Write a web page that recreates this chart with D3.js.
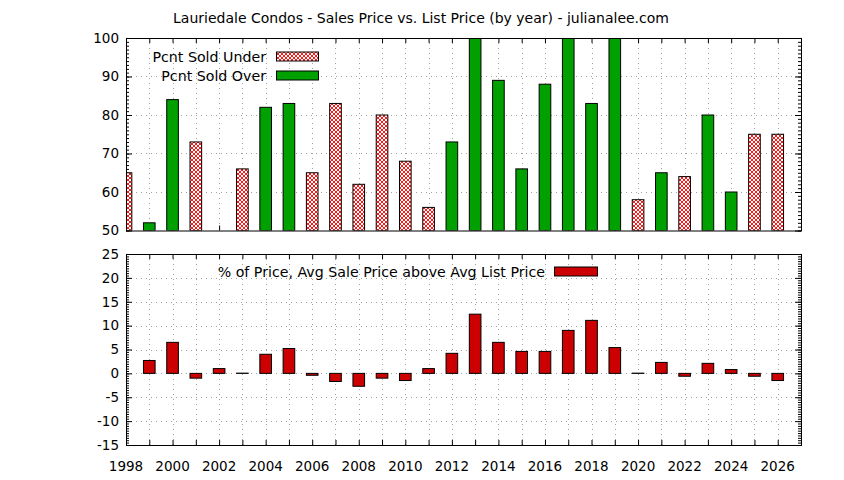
<!DOCTYPE html>
<html>
<head>
<meta charset="utf-8">
<script src="https://cdn.jsdelivr.net/npm/d3@7"></script>
<style>
  body { margin: 0; background: #fff; }
  svg { display: block; font-family: "DejaVu Sans", sans-serif; }
</style>
</head>
<body>
<div id="chart"></div>
<script>
// --- data ---
const years = d3.range(1998, 2027);
// percent of sales closed under list price (values under 50 fall below the axis)
const pcntUnder = [65, 45, 16, 73, 50, 66, 18, 17, 65, 83, 62, 80, 68, 56, 27, 0, 11, 34, 12, 0, 17, 0, 58, 35, 64, 20, 40, 75, 75];
// percent of sales closed over list price
const pcntOver  = [35, 52, 84, 27, 50, 34, 82, 83, 35, 17, 38, 20, 32, 44, 73, 100, 89, 66, 88, 100, 83, 100, 42, 65, 36, 80, 60, 25, 25];
// avg sale price above avg list price, in %
const pctAbove  = [0, 2.7, 6.5, -1.0, 1.0, 0.05, 4.0, 5.2, -0.4, -1.7, -2.7, -1.0, -1.5, 1.0, 4.2, 12.4, 6.5, 4.6, 4.6, 9.0, 11.1, 5.4, 0.05, 2.3, -0.6, 2.1, 0.8, -0.6, -1.5];
const topTicks = [50, 60, 70, 80, 90, 100];
const botTicks = [-15, -10, -5, 0, 5, 10, 15, 20, 25];
const yearLabels = d3.range(1998, 2027, 2);

const titleText = "Lauriedale Condos - Sales Price vs. List Price (by year) - julianalee.com";

const W = 844, H = 480;
const left = 126, right = 801;
const top1 = 38, bot1 = 230.5;
const top2 = 254, bot2 = 445;
const green = "#00a000", red = "#cc0000";

const svg = d3.select("#chart").append("svg")
    .attr("width", W).attr("height", H);

const defs = svg.append("defs");
const pat = defs.append("pattern")
    .attr("id", "hatch")
    .attr("patternUnits", "userSpaceOnUse")
    .attr("width", 4).attr("height", 4);
pat.append("rect").attr("width", 4).attr("height", 4).attr("fill", "#fff");
pat.append("path")
    .attr("d", "M0,0 L4,4 M4,0 L0,4 M-1,3 L1,5 M3,-1 L5,1 M-1,1 L1,-1 M3,5 L5,3")
    .attr("stroke", "#ff1a1a").attr("stroke-width", 1);

const x = d3.scaleLinear().domain([1998, 2027]).range([left, right]);
const y1 = d3.scaleLinear().domain([50, 100]).range([bot1, top1]);
const y2 = d3.scaleLinear().domain([-15, 25]).range([bot2, top2]);
const barW = x(1998.5) - x(1998);

svg.append("text")
    .attr("x", 421).attr("y", 23)
    .attr("text-anchor", "middle")
    .attr("font-size", "14px")
    .attr("fill", "#000")
    .text(titleText);

function panel(y, yTop, yBot, ticks, minorStep, id) {
    const g = svg.append("g");
    const clip = defs.append("clipPath").attr("id", id);
    clip.append("rect").attr("x", left).attr("y", yTop).attr("width", right - left).attr("height", yBot - yTop);

    // grid
    const grid = g.append("g")
        .attr("stroke", "#a0a0a0").attr("stroke-width", 1)
        .attr("stroke-dasharray", "1,4");
    grid.selectAll("line.h").data(ticks.slice(1, -1)).join("line")
        .attr("x1", left).attr("x2", right)
        .attr("y1", d => Math.round(y(d)) + 0.5).attr("y2", d => Math.round(y(d)) + 0.5);
    grid.selectAll("line.v").data(years.slice(1)).join("line")
        .attr("x1", d => Math.round(x(d)) + 0.5).attr("x2", d => Math.round(x(d)) + 0.5)
        .attr("y1", yTop).attr("y2", yBot);

    // y axes, left and mirrored right
    const dom = y.domain();
    const minor = d3.range(dom[0], dom[1] + 0.001, minorStep);
    const axL = d3.axisRight(y).tickValues(ticks).tickSize(6).tickFormat("");
    const axLm = d3.axisRight(y).tickValues(minor).tickSize(3).tickFormat("");
    const axR = d3.axisLeft(y).tickValues(ticks).tickSize(6).tickFormat("");
    const axRm = d3.axisLeft(y).tickValues(minor).tickSize(3).tickFormat("");
    [[axL, left], [axLm, left], [axR, right], [axRm, right]].forEach(([a, px]) => {
        const ag = g.append("g").attr("transform", `translate(${px},0)`).call(a);
        ag.select(".domain").remove();
        ag.selectAll("line").attr("stroke", "#000");
    });
    // y labels
    g.selectAll("text.yl").data(ticks).join("text")
        .attr("x", left - 7).attr("y", d => y(d))
        .attr("dy", "0.36em")
        .attr("text-anchor", "end")
        .attr("font-size", "13.5px")
        .text(d => d);

    // x ticks top and bottom
    const axT = d3.axisBottom(x).tickValues(years).tickSize(5).tickFormat("");
    const axB = d3.axisTop(x).tickValues(years).tickSize(5).tickFormat("");
    [[axT, yTop], [axB, yBot]].forEach(([a, py]) => {
        const ag = g.append("g").attr("transform", `translate(0,${py})`).call(a);
        ag.select(".domain").remove();
        ag.selectAll("line").attr("stroke", "#000");
    });

    const bars = g.append("g").attr("clip-path", `url(#${id})`);
    g.append("rect")
        .attr("x", left + 0.5).attr("y", yTop + 0.5)
        .attr("width", right - left).attr("height", yBot - yTop)
        .attr("fill", "none").attr("stroke", "#000").attr("stroke-width", 1);
    return bars;
}

// --- top panel ---
const bars1 = panel(y1, top1, bot1, topTicks, 1, "clip1");
bars1.selectAll("rect.under").data(years).join("rect")
    .attr("x", d => x(d) - barW / 2)
    .attr("width", barW)
    .attr("y", (d, i) => y1(pcntUnder[i]))
    .attr("height", (d, i) => Math.max(0, y1(50) - y1(pcntUnder[i])))
    .attr("fill", "url(#hatch)")
    .attr("stroke", "#000").attr("stroke-width", 1);
bars1.selectAll("rect.over").data(years).join("rect")
    .attr("x", d => x(d) - barW / 2)
    .attr("width", barW)
    .attr("y", (d, i) => y1(pcntOver[i]))
    .attr("height", (d, i) => Math.max(0, y1(50) - y1(pcntOver[i])))
    .attr("fill", d => green)
    .attr("stroke", "#000").attr("stroke-width", 1);

// --- bottom panel ---
const bars2 = panel(y2, top2, bot2, botTicks, 0.5, "clip2");
bars2.selectAll("rect").data(years).join("rect")
    .attr("x", d => x(d) - barW / 2)
    .attr("width", barW)
    .attr("y", (d, i) => y2(Math.max(0, pctAbove[i])))
    .attr("height", (d, i) => Math.abs(y2(pctAbove[i]) - y2(0)))
    .attr("fill", red)
    .attr("stroke", "#000").attr("stroke-width", 1);

// year labels
svg.selectAll("text.xl").data(yearLabels).join("text")
    .attr("x", d => x(d)).attr("y", 471)
    .attr("text-anchor", "middle")
    .attr("font-size", "13.5px")
    .text(d => d);

// legends
const leg1 = [
    { label: "Pcnt Sold Under", fill: "url(#hatch)", y: 56.5 },
    { label: "Pcnt Sold Over", fill: green, y: 75.5 }
];
leg1.forEach(l => {
    svg.append("text").attr("x", 266).attr("y", l.y).attr("dy", "0.36em")
        .attr("text-anchor", "end").attr("font-size", "14.2px").text(l.label);
    svg.append("rect").attr("x", 276.5).attr("y", l.y - 4.5)
        .attr("width", 42).attr("height", 9)
        .attr("fill", l.fill).attr("stroke", "#000");
});
svg.append("text").attr("x", 545).attr("y", 271.5).attr("dy", "0.36em")
    .attr("text-anchor", "end").attr("font-size", "14.2px")
    .text("% of Price, Avg Sale Price above Avg List Price");
svg.append("rect").attr("x", 554.5).attr("y", 267)
    .attr("width", 43).attr("height", 9)
    .attr("fill", red).attr("stroke", "#000");
</script>
</body>
</html>
